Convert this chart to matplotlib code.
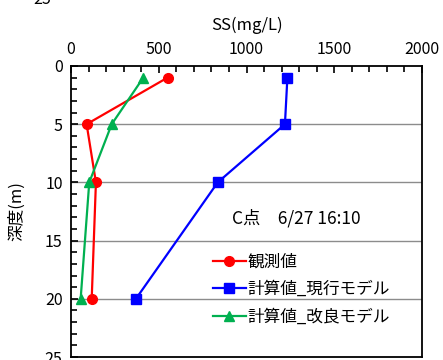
import matplotlib
matplotlib.use("Agg")
import matplotlib.pyplot as plt
from matplotlib.ticker import MultipleLocator

plt.rcParams['font.family'] = ['Noto Sans CJK JP', 'DejaVu Sans']

depth = [1, 5, 10, 20]
obs = [550, 89, 142, 118]
cur = [1233, 1219, 836, 370]
imp = [412, 232, 104, 55]
labels = ['観測値', '計算値_現行モデル', '計算値_改良モデル']
xticks = [0, 500, 1000, 1500, 2000]
yticks = [0, 5, 10, 15, 20, 25]

fig = plt.figure(figsize=(4.43, 3.6), dpi=100)
ax = fig.add_axes([71/443, 1-357/360, (422-71)/443, (357-66)/360])

ax.plot(obs, depth, color='#FF0000', marker='o', ms=7, lw=1.6, label=labels[0], clip_on=False, zorder=3)
ax.plot(cur, depth, color='#0000FF', marker='s', ms=7, lw=1.6, label=labels[1], clip_on=False, zorder=3)
ax.plot(imp, depth, color='#00B050', marker='^', ms=7.5, lw=1.6, label=labels[2], clip_on=False, zorder=3)

ax.set_xlim(0, 2000)
ax.set_ylim(25, 0)
ax.xaxis.tick_top()
ax.xaxis.set_label_position('top')
ax.set_xticks(xticks)
ax.set_yticks(yticks)
ax.xaxis.set_minor_locator(MultipleLocator(100))
ax.yaxis.set_minor_locator(MultipleLocator(1))
ax.tick_params(axis='both', which='both', direction='in', labelsize=11.5, width=1.2)
ax.tick_params(axis='both', which='major', length=5, pad=6)
ax.tick_params(axis='both', which='minor', length=4)
ax.tick_params(axis='x', which='both', top=True, bottom=False)
ax.tick_params(axis='y', which='both', left=True, right=False)
for s in ax.spines.values():
    s.set_linewidth(1.3)
    s.set_color('black')

for y in [5, 10, 15, 20]:
    ax.axhline(y, color='#8c8c8c', lw=1.0, zorder=1)

ax.set_xlabel('SS(mg/L)', fontsize=12, labelpad=8)
ax.set_ylabel('深度(m)', fontsize=12, labelpad=14)

ax.text(0.46, 0.478, 'C点　6/27 16:10', transform=ax.transAxes, fontsize=12.5, va='center', ha='left')

leg = ax.legend(loc='upper left', bbox_to_anchor=(0.385, 0.378), frameon=False,
                fontsize=12, handlelength=2.0, handletextpad=0.1, labelspacing=0.62,
                borderaxespad=0)

fig.text(42/443, 1.0, '25', fontsize=11.5, ha='center', va='center')

fig.savefig('out.png', dpi=100)
